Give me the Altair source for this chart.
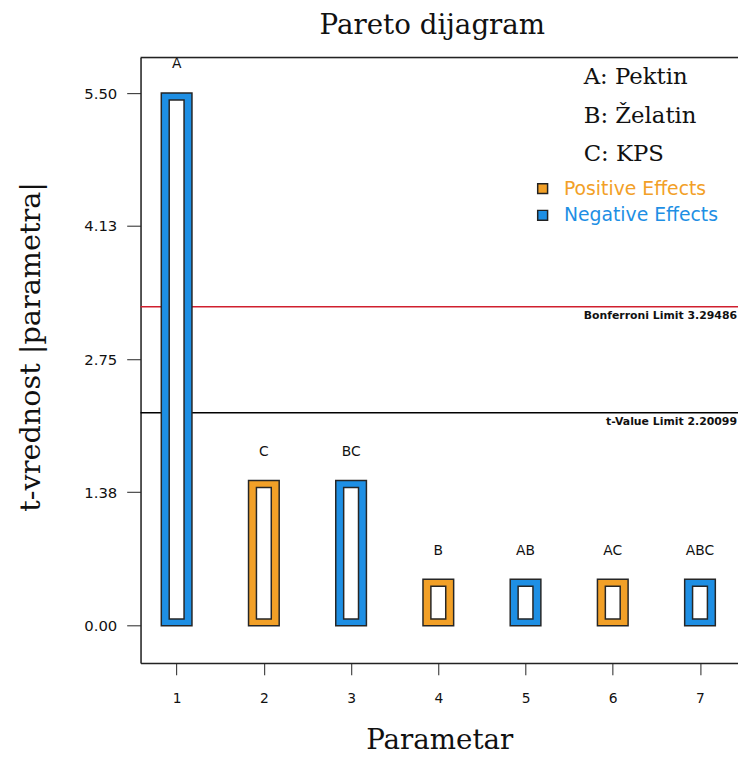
import altair as alt
import pandas as pd

# ---- data ----
positions = [1, 2, 3, 4, 5, 6, 7]
terms = ["A", "C", "BC", "B", "AB", "AC", "ABC"]
t_values = [5.50, 1.50, 1.50, 0.48, 0.48, 0.48, 0.48]
effects = ["Negative Effects", "Positive Effects", "Negative Effects",
           "Positive Effects", "Negative Effects", "Positive Effects",
           "Negative Effects"]
limit_names = ["Bonferroni Limit", "t-Value Limit"]
limit_values = [3.29486, 2.20099]
factor_lines = ["A: Pektin", "B: Želatin", "C: KPS"]
y_ticks = [0.00, 1.38, 2.75, 4.13, 5.50]
x_ticks = [1, 2, 3, 4, 5, 6, 7]
effect_names = ["Positive Effects", "Negative Effects"]
effect_colors = ["#F2A027", "#1E8FE4"]
limit_colors = ["#D01F2E", "#000000"]

bars = pd.DataFrame({"pos": positions, "term": terms, "t": t_values, "effect": effects})
limits = pd.DataFrame({"name": limit_names, "value": limit_values, "color": limit_colors})
limits["label"] = limits["name"] + " " + limits["value"].map(lambda v: f"{v:.5f}")

W, H = 604, 612
xscale = alt.Scale(domain=[0.643, 7.379], nice=False, zero=False)
yscale = alt.Scale(domain=[-0.383, 5.867], nice=False, zero=False)

SERIF = "DejaVu Serif"
SANS = "DejaVu Sans"

x_enc = alt.X("pos:Q", scale=xscale, axis=alt.Axis(
    values=x_ticks, format="d", title="Parametar", grid=False,
    tickSize=12, tickColor="#222", domainColor="#222", domainWidth=1.5,
    labelFont=SANS, labelFontSize=14, labelColor="#111", labelPadding=17,
    titleFont=SERIF, titleFontSize=28, titleFontWeight="normal", titleColor="#111",
    titleX=302, titleY=79, titleBaseline="middle", titleAnchor="middle"))
y_enc = alt.Y("t:Q", scale=yscale, axis=alt.Axis(
    values=y_ticks, format=".2f", title="t-vrednost |parametra|", grid=False,
    tickSize=14, tickColor="#222", domainColor="#222", domainWidth=1.5,
    labelFont=SANS, labelFontSize=15, labelColor="#111", labelPadding=10,
    titleFont=SERIF, titleFontSize=29, titleFontWeight="normal", titleColor="#111",
    titleX=-111, titleY=292, titleBaseline="middle", titleAlign="center", titleAngle=270))

label_color_expr = "datum.label === 'Positive Effects' ? '" + effect_colors[0] + "' : '" + effect_colors[1] + "'"

color_enc = alt.Color("effect:N", scale=alt.Scale(domain=effect_names, range=effect_colors),
    legend=alt.Legend(
        title=None, orient="none", legendX=397, legendY=123,
        symbolType="square", symbolSize=100, symbolStrokeColor="#222",
        symbolStrokeWidth=1.5, labelFont=SANS, labelFontSize=19,
        labelOffset=12, rowPadding=7,
        labelColor=alt.ExprRef(expr=label_color_expr)))

base = alt.Chart(bars)

outer = base.mark_bar(size=31, stroke="#262626", strokeWidth=1.5).encode(
    x=x_enc, y=y_enc, y2=alt.datum(0), color=color_enc)

inner = base.mark_bar(size=15, fill="white", stroke="#262626", strokeWidth=1.5,
                      yOffset=7, y2Offset=-7).encode(
    x=alt.X("pos:Q", scale=xscale), y=alt.Y("t:Q", scale=yscale), y2=alt.datum(0))

term_labels = base.mark_text(dy=-29, baseline="middle", font=SANS, fontSize=14,
                             color="#111").encode(
    x=alt.X("pos:Q", scale=xscale), y=alt.Y("t:Q", scale=yscale), text="term:N")

rules = alt.Chart(limits).mark_rule(strokeWidth=1.5).encode(
    y=alt.Y("value:Q", scale=yscale), color=alt.Color("color:N", scale=None))

limit_text = alt.Chart(limits).mark_text(align="right", baseline="middle", dy=9,
                                         font=SANS, fontSize=11, fontWeight="bold",
                                         color="#111").encode(
    x=alt.value(W - 1), y=alt.Y("value:Q", scale=yscale), text="label:N")

factor_text = alt.Chart(alt.Data(values=[{}])).mark_text(
    text=factor_lines, align="left", baseline="top", font=SERIF, fontSize=23,
    lineHeight=39, color="#111").encode(x=alt.value(448), y=alt.value(9))

top_border = alt.Chart(alt.Data(values=[{}])).mark_rule(color="#222", strokeWidth=1.5).encode(
    x=alt.value(0), x2=alt.value(W), y=alt.value(0))

chart = alt.layer(rules, outer, inner, term_labels, limit_text, factor_text, top_border).properties(
    width=W, height=H,
    title=alt.TitleParams("Pareto dijagram", font=SERIF, fontSize=28, fontWeight="normal",
                          color="#111", anchor="middle", baseline="alphabetic",
                          frame="group", offset=-5, dx=-7),
    autosize=alt.AutoSizeParams(type="none"),
    padding={"left": 134, "top": 46, "right": 0, "bottom": 89},
).configure_view(stroke=None).configure(background="white")

chart.save("out.html", embed_options={"renderer": "svg", "actions": False})
